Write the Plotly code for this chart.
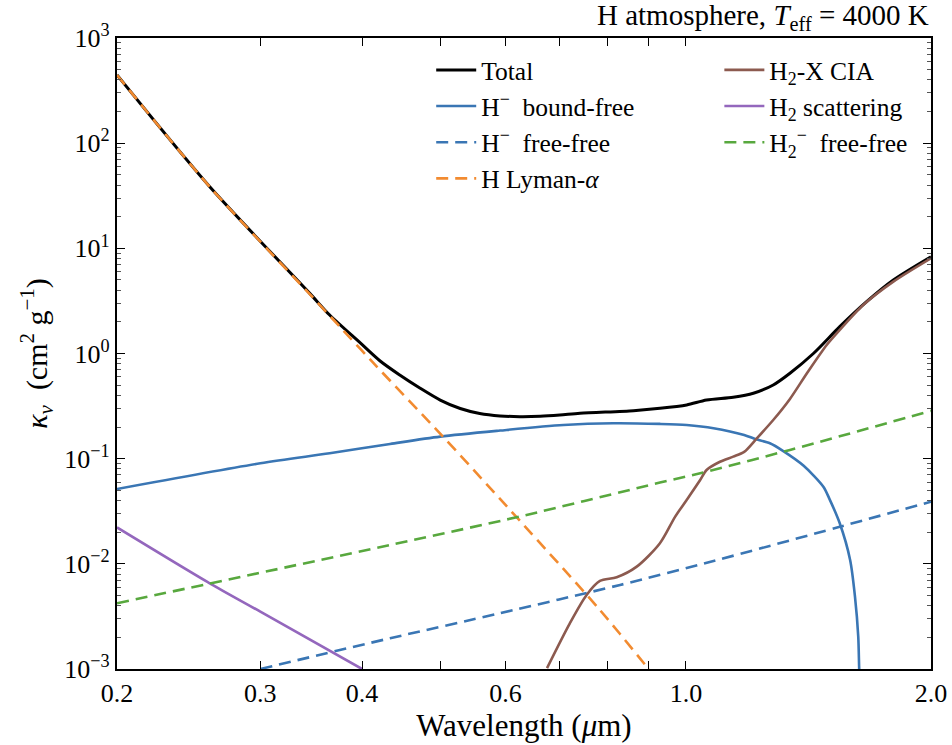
import plotly.graph_objects as go

# Wavelength (micron) and opacity kappa_nu (cm^2 g^-1) for each opacity source
wl_total = [0.2, 0.26, 0.345, 0.365, 0.398, 0.421, 0.445, 0.471, 0.499, 0.528, 0.558, 0.591,
            0.625, 0.662, 0.700, 0.741, 0.862, 0.929, 1.002, 1.06, 1.143, 1.21, 1.28, 1.342,
            1.434, 1.545, 1.667, 1.798, 2.0]
k_total = [445, 38.5, 3.73, 2.32, 1.26, 0.849, 0.625, 0.470, 0.361, 0.300, 0.269, 0.255,
           0.251, 0.253, 0.260, 0.270, 0.286, 0.301, 0.324, 0.361, 0.384, 0.419, 0.502, 0.649,
           1.00, 1.80, 3.11, 5.00, 8.32]

wl_hm_bf = [0.2, 0.3, 0.365, 0.433, 0.499, 0.591, 0.707, 0.814, 0.929, 1.002, 1.081, 1.179,
            1.216, 1.268, 1.317, 1.394, 1.475, 1.50, 1.545, 1.591, 1.613, 1.628, 1.632, 1.634]
k_hm_bf = [0.0515, 0.0904, 0.1125, 0.138, 0.162, 0.185, 0.209, 0.217, 0.214, 0.209, 0.195, 0.168,
           0.154, 0.140, 0.118, 0.086, 0.0541, 0.0417, 0.0243, 0.0109, 0.00488, 0.00203,
           0.00105, 0.0008]

wl_hm_ff = [0.3, 0.433, 0.591, 0.83, 1.081, 1.545, 2.0]
k_hm_ff = [0.00100, 0.00196, 0.00339, 0.00630, 0.01064, 0.0225, 0.0390]

wl_lya = [0.2, 0.26, 0.345, 0.379, 0.413, 0.503, 0.591, 0.625, 0.784, 0.895, 0.905]
k_lya = [445, 38.5, 3.67, 1.67, 0.813, 0.162, 0.0414, 0.0257, 0.00364, 0.00105, 0.00094]

wl_cia = [0.675, 0.72, 0.755, 0.784, 0.822, 0.870, 0.929, 0.970, 1.002, 1.041, 1.06, 1.101,
          1.143, 1.179, 1.222, 1.280, 1.342, 1.41, 1.489, 1.545, 1.651, 1.798, 2.0]
k_cia = [0.00102, 0.00272, 0.00506, 0.00687, 0.00745, 0.0094, 0.0157, 0.0281, 0.0405, 0.0627,
         0.078, 0.0935, 0.1045, 0.116, 0.156, 0.233, 0.37, 0.66, 1.205, 1.675, 2.89, 4.82, 8.04]

wl_h2_scat = [0.2, 0.26, 0.3, 0.4]
k_h2_scat = [0.0222, 0.00653, 0.00351, 0.00100]

wl_h2m_ff = [0.2, 0.433, 0.625, 0.929, 1.041, 1.342, 2.0]
k_h2m_ff = [0.00422, 0.0151, 0.0282, 0.0592, 0.0726, 0.121, 0.285]

x_tickvals = [0.2, 0.3, 0.4, 0.5, 0.6, 0.7, 0.8, 0.9, 1.0, 2.0]
x_ticktext = ["0.2", "0.3", "0.4", "", "0.6", "", "", "", "1.0", "2.0"]
y_tickvals = [1e-3, 1e-2, 1e-1, 1e0, 1e1, 1e2, 1e3]
y_ticktext = ["10<sup>−3</sup>", "10<sup>−2</sup>", "10<sup>−1</sup>", "10<sup>0</sup>",
              "10<sup>1</sup>", "10<sup>2</sup>", "10<sup>3</sup>"]
y_minor = [m * 10.0 ** e for e in range(-3, 3) for m in range(2, 10)]

FONT = "Liberation Serif"
BLUE = "#3a76b4"
ORANGE = "#f28b30"
BROWN = "#8c5a4f"
PURPLE = "#9467bd"
GREEN = "#58a83e"
DASH = "12px,7px"

fig = go.Figure()

series = [
    # name, x, y, colour, dash, width, legend, rank
    ("Total", wl_total, k_total, "black", "solid", 3.0, "legend", 1),
    ("H<sup>−</sup>  bound-free", wl_hm_bf, k_hm_bf, BLUE, "solid", 2.6, "legend", 2),
    ("H<sup>−</sup>  free-free", wl_hm_ff, k_hm_ff, BLUE, DASH, 2.6, "legend", 3),
    ("H Lyman-<i>α</i>", wl_lya, k_lya, ORANGE, DASH, 2.6, "legend", 4),
    ("H<sub>2</sub>-X CIA", wl_cia, k_cia, BROWN, "solid", 2.6, "legend2", 5),
    ("H<sub>2</sub> scattering", wl_h2_scat, k_h2_scat, PURPLE, "solid", 2.6, "legend2", 6),
    ("H<sub>2</sub><sup>−</sup>  free-free", wl_h2m_ff, k_h2m_ff, GREEN, DASH, 2.6, "legend2", 7),
]

for name, x, y, colour, dash, width, leg, rank in series:
    fig.add_trace(go.Scatter(
        x=x, y=y, name=name, mode="lines",
        line=dict(color=colour, dash=dash, width=width, shape="spline", smoothing=0.8),
        legend=leg, legendrank=rank, legendgroup=name,
    ))

legend_style = dict(
    bgcolor="rgba(0,0,0,0)", borderwidth=0,
    font=dict(family=FONT, size=25.5, color="black"),
    xanchor="left", yanchor="top", tracegroupgap=0, itemwidth=40,
)

fig.update_layout(
    width=952, height=745,
    margin=dict(l=117, r=21, t=38, b=76, autoexpand=False),
    paper_bgcolor="white", plot_bgcolor="white",
    font=dict(family=FONT, size=25, color="black"),
    showlegend=True,
    legend=dict(x=0.386, y=0.986, **legend_style),
    legend2=dict(x=0.740, y=0.986, **legend_style),
    annotations=[dict(
        text="H atmosphere, <i>T</i><sub>eff</sub> = 4000 K",
        xref="paper", yref="paper", x=1.0, y=1.0, xanchor="right", yanchor="bottom",
        yshift=1, showarrow=False, font=dict(family=FONT, size=29, color="black"),
    )],
)

fig.update_xaxes(
    type="log", range=[-0.69897, 0.30103], automargin=False,
    tickmode="array", tickvals=x_tickvals, ticktext=x_ticktext,
    ticks="inside", ticklen=8, tickwidth=1.2, tickcolor="black",
    showline=True, linewidth=2.2, linecolor="black", mirror="allticks",
    showgrid=False, zeroline=False,
    tickfont=dict(family=FONT, size=26),
    title=dict(text="Wavelength (<i>μ</i>m)", font=dict(family=FONT, size=31), standoff=4),
)

fig.update_yaxes(
    type="log", range=[-3, 3], automargin=False,
    tickmode="array", tickvals=y_tickvals, ticktext=y_ticktext,
    ticks="inside", ticklen=8, tickwidth=1.2, tickcolor="black",
    minor=dict(tickmode="array", tickvals=y_minor, ticks="inside", ticklen=4,
               tickwidth=1, tickcolor="#555555", showgrid=False),
    showline=True, linewidth=2.2, linecolor="black", mirror="allticks",
    showgrid=False, zeroline=False,
    tickfont=dict(family=FONT, size=26),
    title=dict(text="<i>κ</i><sub><i>ν</i></sub>  (cm<sup>2</sup> g<sup>−1</sup>)",
               font=dict(family=FONT, size=30), standoff=8),
)

fig.write_html("out.html")
